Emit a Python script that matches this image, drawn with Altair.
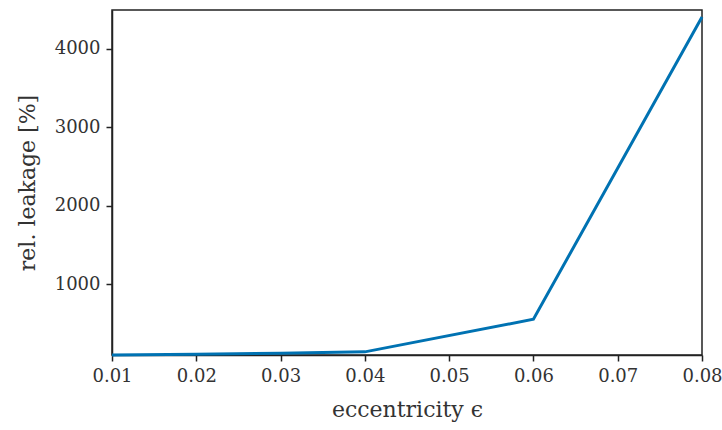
import altair as alt
import pandas as pd

eccentricity = [0.01, 0.02, 0.03, 0.04, 0.06, 0.08]
rel_leakage = [100, 110, 122, 140, 555, 4400]

df = pd.DataFrame({"e": eccentricity, "leak": rel_leakage})

FONT = "DejaVu Serif"

chart = alt.Chart(df).mark_line(color="#0072B2", strokeWidth=3).encode(
    x=alt.X("e:Q", scale=alt.Scale(domain=[0.01, 0.08], nice=False, zero=False),
            axis=alt.Axis(title="eccentricity ϵ", values=[0.01, 0.02, 0.03, 0.04, 0.05, 0.06, 0.07, 0.08],
                          format=".2f", labelFlush=False)),
    y=alt.Y("leak:Q", scale=alt.Scale(domain=[100, 4490], nice=False, zero=False),
            axis=alt.Axis(title="rel. leakage [%]", values=[1000, 2000, 3000, 4000], format="d")),
).properties(
    width=590, height=345,
    autosize=alt.AutoSizeParams(type="none"),
    padding={"left": 112, "top": 10, "right": 20, "bottom": 75},
).configure_view(
    stroke="#222222", strokeWidth=1.5
).configure_axis(
    grid=False,
    domainColor="#222222", domainWidth=1.5,
    tickColor="#222222", tickWidth=1.5, tickSize=6,
    labelFont=FONT, labelFontSize=18, labelColor="#333333", labelPadding=6,
    titleFont=FONT, titleFontSize=22, titleFontWeight="normal", titleColor="#333333",
).configure_axisX(titlePadding=14).configure_axisY(titlePadding=15)

chart.save("out.html", embed_options={"renderer": "svg", "actions": False})
